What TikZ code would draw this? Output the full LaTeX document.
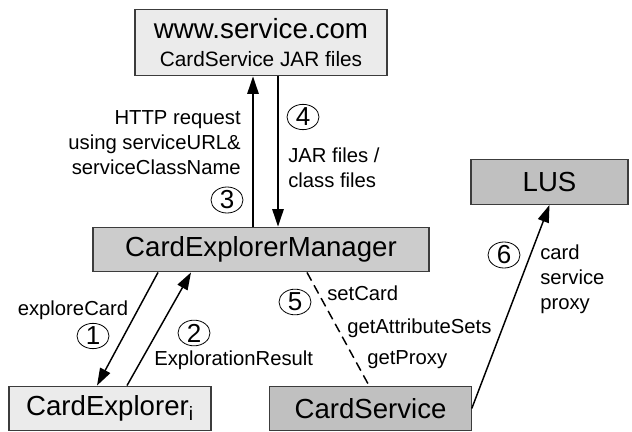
\documentclass[tikz,border=0pt]{standalone}
\usepackage{fontspec}
\setmainfont{Liberation Sans}
\usetikzlibrary{arrows.meta,positioning,shapes.geometric}

\definecolor{lightbox}{RGB}{235,235,235}
\definecolor{midbox}{RGB}{204,204,204}
\definecolor{darkbox}{RGB}{192,192,192}
\definecolor{edge}{RGB}{60,60,60}

\tikzset{
    box/.style={draw=edge, line width=0.9pt, inner sep=0pt, minimum height=33.5pt, font=\fontsize{20.7}{24}\selectfont},
    num/.style={draw, ellipse, line width=0.6pt, inner sep=0pt, minimum width=24pt, minimum height=18pt, font=\fontsize{19.5}{19.5}\selectfont},
    lbl/.style={inner sep=0pt, font=\fontsize{15.2}{18.75}\selectfont},
    arr/.style={-{Triangle[length=13pt,width=8.5pt]}, line width=1.1pt}
}

\begin{document}
\begin{tikzpicture}[x=0.75pt, y=-0.75pt]
    \useasboundingbox (0,0) rectangle (632,432);

    % boxes
    \node[box, fill=lightbox, minimum width=189pt, minimum height=50pt, align=center,
          font=\fontsize{20.8}{21}\selectfont] (www) at (261,42.5)
        {www.service.com\\{\fontsize{15.6}{18}\selectfont CardService JAR files}};
    \node[box, fill=midbox, minimum width=252pt] (cem) at (261,249.5) {CardExplorerManager};
    \node[box, fill=darkbox, minimum width=117.75pt] (lus) at (549.5,182) {LUS};
    \node[box, fill=lightbox, minimum width=151.5pt] (expl) at (110,408.5) {CardExplorer\textsubscript{i}};
    \node[box, fill=darkbox, minimum width=151pt] (cs) at (370.5,408.5) {CardService};

    % connectors
    \draw[arr] (253,0 |- cem.north) -- (253,0 |- www.south);
    \draw[arr] (278,0 |- www.south) -- (278,0 |- cem.north);
    \draw[arr] (158,0 |- cem.south) -- (97,0 |- expl.north);
    \draw[arr] (127,0 |- expl.north) -- (191,0 |- cem.south);
    \draw[line width=1.1pt, dash pattern=on 7pt off 4pt] (307,0 |- cem.south) -- (369,0 |- cs.north);
    \draw[arr] (cs.east) -- (lus.south);

    % step numbers
    \node[num] (n1) at (93,336) {1};
    \node[num] (n2) at (194,333) {2};
    \node[num] (n3) at (227,200) {3};
    \node[num] (n4) at (303,117) {4};
    \node[num] (n5) at (295,302) {5};
    \node[num] (n6) at (504,255) {6};

    % labels
    \node[lbl, align=right, anchor=east] (http) at (241,143) {HTTP request\\using serviceURL\&\\serviceClassName};
    \node[lbl, align=left, anchor=west] (jar) at (288,167.5) {JAR files /\\class files};
    \node[lbl] (explore) at (73,310) {exploreCard};
    \node[lbl, anchor=west] (result) at (154,360) {ExplorationResult};
    \node[lbl, anchor=west] (setcard) at (327,293) {setCard};
    \node[lbl, anchor=west] (getattr) at (347,328) {getAttributeSets};
    \node[lbl, anchor=west] (getproxy) at (367,360) {getProxy};
    \node[lbl, align=left, anchor=west] (proxy) at (540,279) {card\\service\\proxy};
\end{tikzpicture}
\end{document}
